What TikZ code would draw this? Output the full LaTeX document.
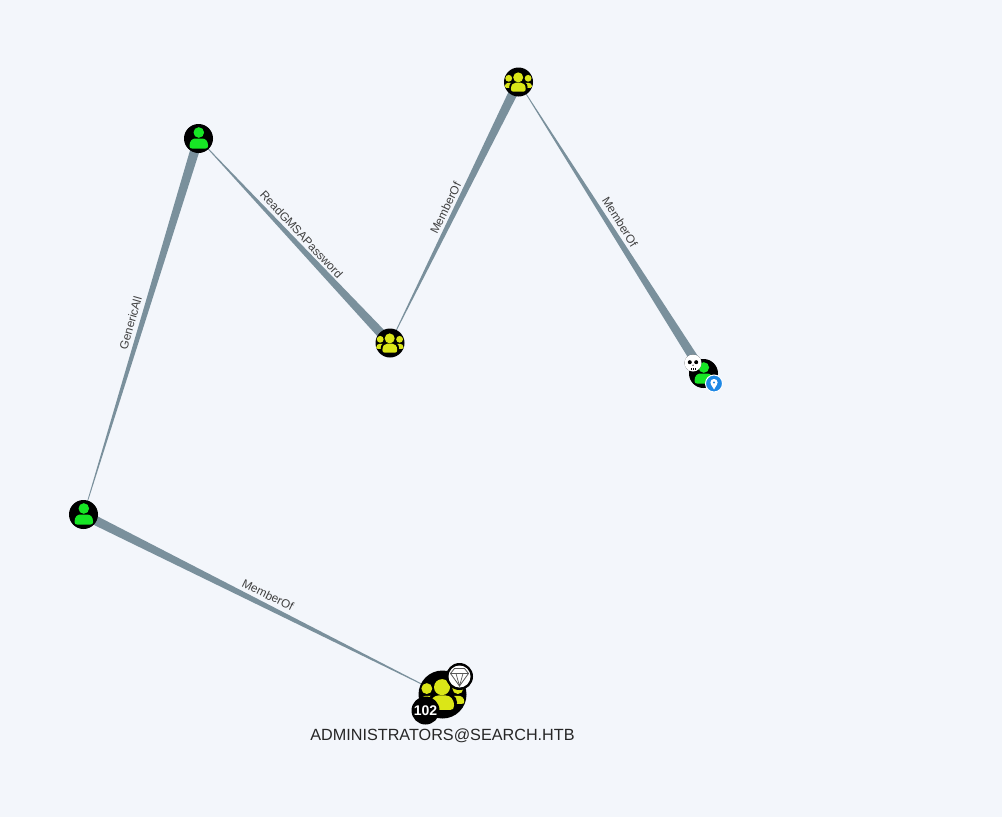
\documentclass[tikz,border=0pt]{standalone}
\usepackage{fontspec}
\setmainfont{Liberation Sans}
\usetikzlibrary{calc}
\definecolor{bgc}{HTML}{F3F6FB}
\definecolor{edgec}{HTML}{7A909C}
\definecolor{userc}{HTML}{17E625}
\definecolor{groupc}{HTML}{DBE617}
\definecolor{pinc}{HTML}{1E88E5}
\tikzset{
  x=1pt,y=-1pt,
  nodept/.style={circle,fill=black,minimum size=#1,inner sep=0pt},
  edgelabel/.style={font=\fontsize{11.8}{13}\selectfont,text=black!75,inner sep=0pt},
  badge/.style={circle,fill=black,inner sep=0pt,minimum size=#1},
  title/.style={font=\fontsize{16.2}{18}\selectfont,text=black!85,inner sep=0pt}
}
% tapered edge: thin at #1, thick at #2
\newcommand{\taper}[3]{%
  \fill[edgec] ($(#1)!0.2pt!90:(#2)$) -- ($(#1)!0.2pt!-90:(#2)$)
    -- ($(#2)!#3!90:(#1)$) -- ($(#2)!#3!-90:(#1)$) -- cycle;}
\newcommand{\usericon}[3]{%
  \begin{scope}[shift={(#1)},scale=#2]
    \fill[#3] (0.3,-6) circle (5.3);
    \fill[#3] (-9,7.5) .. controls (-9,2) and (-6,0) .. (-3,0) -- (3.6,0) .. controls (6.6,0) and (9.6,2) .. (9.6,7.5)
      .. controls (9.6,9.4) and (8.6,10) .. (7,10) -- (-6.4,10) .. controls (-8,10) and (-9,9.4) .. (-9,7.5) -- cycle;
  \end{scope}}
\newcommand{\groupicon}[3]{%
  \begin{scope}[shift={(#1)},scale=#2]
    \fill[#3] (-9.8,-3.7) circle (3.4);
    \fill[#3] (9.6,-3.7) circle (3.4);
    \fill[#3] (-13.8,4.6) .. controls (-13.8,2) and (-12,0.8) .. (-10,0.8) -- (-7,0.8) -- (-5,5.8) -- (-12.4,5.8) .. controls (-13.4,5.8) and (-13.8,5.4) .. (-13.8,4.6) -- cycle;
    \fill[#3] (13.6,4.6) .. controls (13.6,2) and (11.8,0.8) .. (9.8,0.8) -- (6.8,0.8) -- (4.8,5.8) -- (12.2,5.8) .. controls (13.2,5.8) and (13.6,5.4) .. (13.6,4.6) -- cycle;
    \fill[black] (-0.1,5) ellipse (9.2 and 7);
    \fill[#3] (-0.3,-4.6) circle (5);
    \fill[#3] (-7.6,7) .. controls (-7.6,2.5) and (-5,0.6) .. (-2.5,0.6) -- (2,0.6) .. controls (4.6,0.6) and (7.2,2.5) .. (7.2,7)
      .. controls (7.2,8.8) and (6.4,9.6) .. (5,9.6) -- (-5.4,9.6) .. controls (-6.8,9.6) and (-7.6,8.8) .. (-7.6,7) -- cycle;
  \end{scope}}
\begin{document}
\begin{tikzpicture}
\useasboundingbox (0,0) rectangle (1002,817);
\fill[bgc] (0,0) rectangle (1002,817);
\coordinate (u2) at (198.5,138.5);
\coordinate (u1) at (83.5,514.5);
\coordinate (g1) at (390,343);
\coordinate (g2) at (518.5,82);
\coordinate (me) at (703.5,373.5);
\coordinate (da) at (442.5,694.5);
\taper{da}{u1}{4.8pt}
\taper{u1}{u2}{4.8pt}
\taper{u2}{g1}{4.8pt}
\taper{g1}{g2}{4.8pt}
\taper{g2}{me}{4.8pt}
\node[nodept=29pt] (nu2) at (u2) {};
\node[nodept=29pt] (nu1) at (u1) {};
\node[nodept=29pt] (ng1) at (g1) {};
\node[nodept=29pt] (ng2) at (g2) {};
\node[nodept=29pt] (nme) at (me) {};
\node[nodept=48pt] (nda) at (da) {};
\usericon{u2}{1}{userc}
\usericon{u1}{1}{userc}
\usericon{me}{1}{userc}
\groupicon{g1}{1}{groupc}
\groupicon{g2}{1}{groupc}
\groupicon{da}{1.6}{groupc}
% labels
\node[edgelabel,rotate=74] (l1) at (130.5,323) {GenericAll};
\node[edgelabel,rotate=-47] (l2) at (301.5,234.5) {ReadGMSAPassword};
\node[edgelabel,rotate=64] (l3) at (445.5,208) {MemberOf};
\node[edgelabel,rotate=-58] (l4) at (620,222) {MemberOf};
\node[edgelabel,rotate=-26] (l5) at (268,595) {MemberOf};
% badges
\node[badge=17pt] (skull) at (693,363) {};
\fill[white] (skull) circle (8.5);
\fill[black] ($(skull)+(-3.2,-0.8)$) circle (2);
\fill[black] ($(skull)+(3.2,-0.8)$) circle (2);
\fill[black] ($(skull)+(0,2.2)$) circle (0.7);
\draw[black,line width=0.5pt] ($(skull)+(-2,5)$) -- ($(skull)+(-2,7)$) ($(skull)+(0,5)$) -- ($(skull)+(0,7)$) ($(skull)+(2,5)$) -- ($(skull)+(2,7)$);
\node[circle,fill=pinc,draw=white,line width=1pt,minimum size=17pt,inner sep=0pt] (pin) at (714,383.5) {};
\fill[white] ($(pin)+(0,-1)$) circle (3.6);
\fill[white] ($(pin)+(-3.2,0.6)$) -- ($(pin)+(3.2,0.6)$) -- ($(pin)+(0,6)$) -- cycle;
\fill[pinc] ($(pin)+(0,-1)$) circle (1.2);
\node[badge=27pt] (gem) at (459.5,676.5) {};
\fill[white] (gem) circle (11);
\draw[black!65,line width=0.8pt,fill=white,line join=round] ($(gem)+(-9,-3)$) -- ($(gem)+(-5,-8)$) -- ($(gem)+(5,-8)$) -- ($(gem)+(9,-3)$) -- ($(gem)+(0,9.5)$) -- cycle;
\draw[black!65,line width=0.7pt] ($(gem)+(-9,-3)$) -- ($(gem)+(9,-3)$) ($(gem)+(-3.5,-3)$) -- ($(gem)+(0,9.5)$) -- ($(gem)+(3.5,-3)$);
\node[badge=28pt,font=\bfseries\fontsize{14}{16}\selectfont,text=white] (cnt) at (425.5,710.5) {102};
\node[title] (name) at (442.5,736) {ADMINISTRATORS@SEARCH.HTB};
\end{tikzpicture}
\end{document}
